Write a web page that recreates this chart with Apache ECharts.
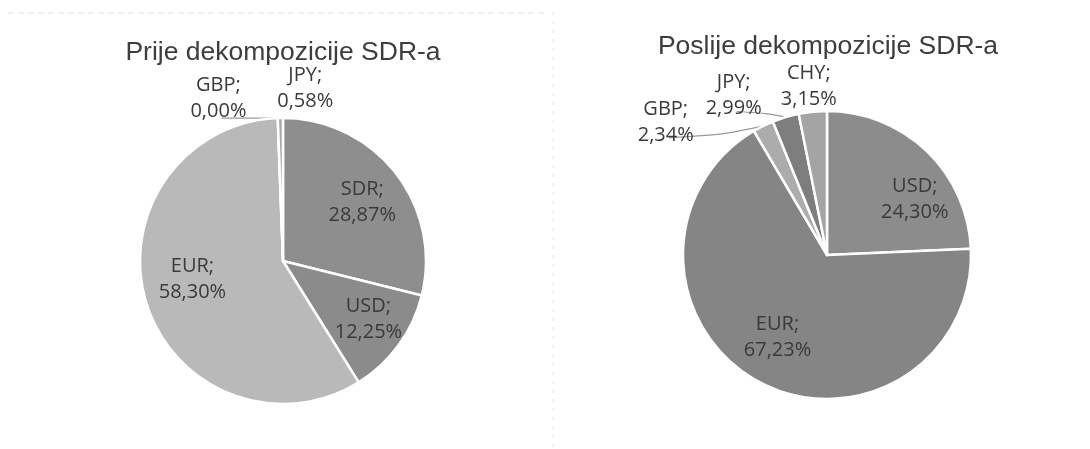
<!DOCTYPE html>
<html><head><meta charset="utf-8">
<script src="https://cdn.jsdelivr.net/npm/echarts@6/dist/echarts.min.js"></script>
<style>html,body{margin:0;padding:0;background:#fff}#c{width:1090px;height:449px}</style>
</head><body><div id="c"></div>
<script>
// ---- data ----
const titles = ['Prije dekompozicije SDR-a', 'Poslije dekompozicije SDR-a'];
const beforeCategories = ['SDR', 'USD', 'EUR', 'GBP', 'JPY'];
const beforeValues = [28.87, 12.25, 58.30, 0.00, 0.58];
const afterCategories = ['USD', 'EUR', 'GBP', 'JPY', 'CHY'];
const afterValues = [24.30, 67.23, 2.34, 2.99, 3.15];

// ---- styles ----
const beforeColors = ['#8e8e8e', '#8b8b8b', '#b9b9b9', '#b0b0b0', '#a8a8a8'];
const afterColors = ['#8c8c8c', '#858585', '#acacac', '#7e7e7e', '#a4a4a4'];
const pies = [
  { center: [283, 261], r: 143, titleX: 278, titleTop: 34,
    // label nudges [dx, dy] and leader-line visibility, per category index
    nudge: [[-2, 5], [2, -2], [8, -12], [-44, -10], [40, -20]],
    lines: [false, false, false, true, false], lineEndUp: [0, 0, 0, 6, 0] },
  { center: [827, 255], r: 144, titleX: 823, titleTop: 28,
    nudge: [[16, 19], [0, -9], [-78, 5], [-34, -12], [12, -15]],
    lines: [false, false, true, true, false], lineEndUp: [0, 0, 10, 10, 0] }
];
const labelFont = { fontFamily: 'Open Sans', fontSize: 20, lineHeight: 26, color: '#3a3a3a' };
const insideMin = 10;

function fmt(name, v) { return name + ';\n' + v.toFixed(2).replace('.', ',') + '%'; }

function buildSeries(cats, vals, colors, p) {
  const mainData = cats.map((c, i) => ({
    name: c, value: vals[i],
    itemStyle: { color: colors[i] },
    label: { show: vals[i] < insideMin },
    labelLine: { show: vals[i] < insideMin && p.lines[i] }
  }));
  const overlayData = cats.map((c, i) => ({
    name: c, value: vals[i],
    label: { show: vals[i] >= insideMin }
  }));
  const insideLayout = (q) => ({ align: 'center', dx: p.nudge[q.dataIndex][0], dy: p.nudge[q.dataIndex][1] });
  const outsideLayout = (q) => {
    const [dx, dy] = p.nudge[q.dataIndex];
    const out = { align: 'center', dx: dx, dy: dy };
    if (q.labelLinePoints && p.lines[q.dataIndex]) {
      const a = q.labelLinePoints[0];
      const lr = q.labelRect;
      const ex = lr.x + lr.width + dx + 3;
      const ey = lr.y + lr.height + dy - p.lineEndUp[q.dataIndex];
      out.labelLinePoints = [[ex, ey], [ex + (a[0] - ex) * 0.6, ey + (a[1] - ey) * 0.3], [a[0], a[1]]];
    }
    return out;
  };
  return [
    {
      type: 'pie', center: p.center, radius: p.r, startAngle: 90, clockwise: true,
      avoidLabelOverlap: false, silent: true,
      itemStyle: { borderColor: '#fff', borderWidth: 2.5 },
      label: Object.assign({ position: 'outside', formatter: (q) => fmt(q.name, q.value), align: 'center' }, labelFont),
      labelLine: { length: 10, length2: 10, smooth: 0.3, lineStyle: { color: '#9a9a9a', width: 1.2 } },
      labelLayout: outsideLayout,
      data: mainData
    },
    {
      type: 'pie', center: p.center, radius: [p.r * 0.4, p.r], startAngle: 90, clockwise: true,
      avoidLabelOverlap: false, silent: true, z: 3,
      itemStyle: { color: 'rgba(0,0,0,0)', borderWidth: 0 },
      label: Object.assign({ position: 'inside', formatter: (q) => fmt(q.name, q.value) }, labelFont),
      labelLine: { show: false },
      labelLayout: insideLayout,
      data: overlayData
    }
  ];
}

const chart = echarts.init(document.getElementById('c'), null, { renderer: 'canvas' });
chart.setOption({
  backgroundColor: '#ffffff',
  animation: false,
  graphic: [
    { type: 'line', silent: true, shape: { x1: 8, y1: 13, x2: 546, y2: 13 },
      style: { stroke: '#e2e2e2', lineWidth: 1, lineDash: [6, 4] } },
    { type: 'line', silent: true, shape: { x1: 553, y1: 12, x2: 553, y2: 449 },
      style: { stroke: '#e6e6e6', lineWidth: 1, lineDash: [3, 6] } }
  ],
  title: titles.map((t, i) => ({
    text: t, left: pies[i].titleX, top: pies[i].titleTop, textAlign: 'center',
    textStyle: { fontFamily: 'Liberation Sans', fontSize: 26.5, fontWeight: 'normal', color: '#3d3d3d' }
  })),
  series: [
    ...buildSeries(beforeCategories, beforeValues, beforeColors, pies[0]),
    ...buildSeries(afterCategories, afterValues, afterColors, pies[1])
  ]
});
</script></body></html>
